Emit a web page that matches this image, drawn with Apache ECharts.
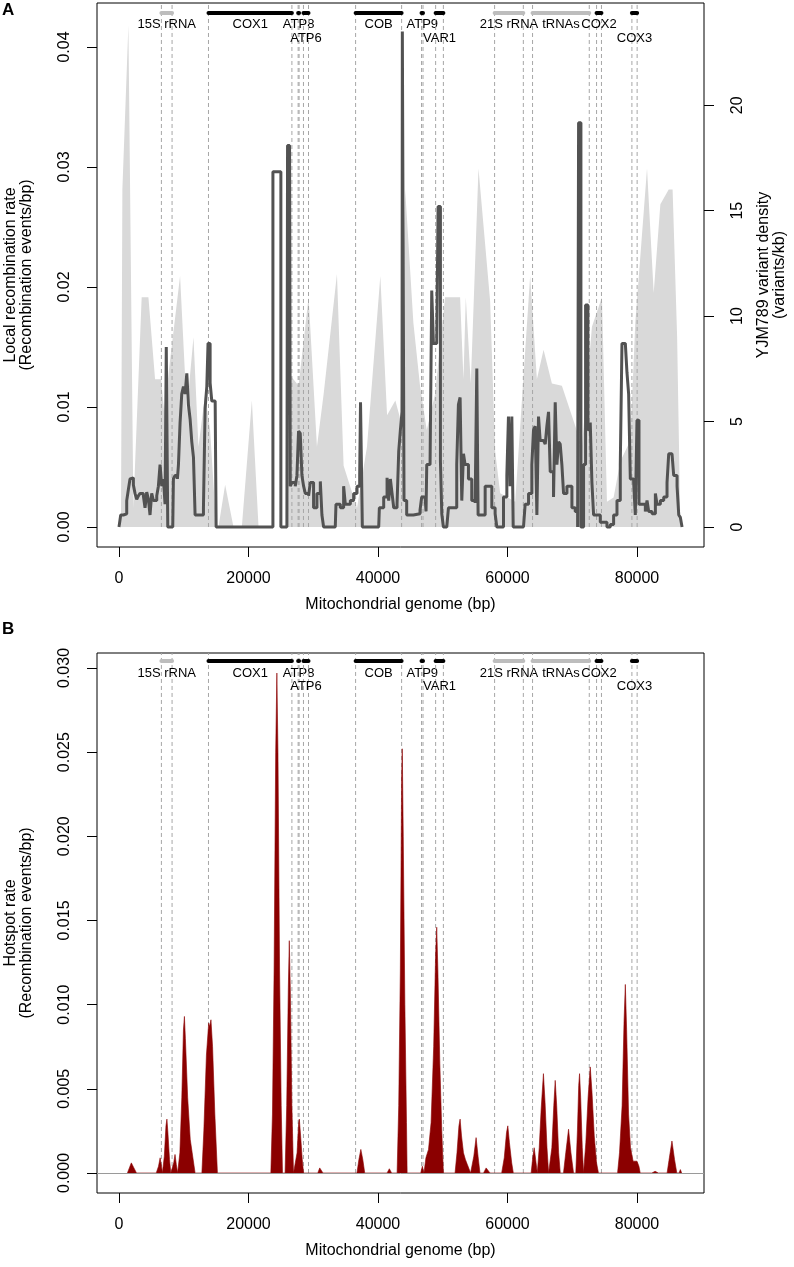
<!DOCTYPE html>
<html><head><meta charset="utf-8">
<script src="https://cdn.jsdelivr.net/npm/echarts@6/dist/echarts.min.js"></script>
<style>html,body{margin:0;padding:0;background:#fff}#c{width:794px;height:1267px}</style>
</head><body><div id="c"></div>
<script>
// ---------- data ----------
const xTicks = [0, 20000, 40000, 60000, 80000];
const rateTicksA = [0, 0.01, 0.02, 0.03, 0.04];
const densityTicks = [0, 5, 10, 15, 20];
const hotTicks = [0, 0.005, 0.01, 0.015, 0.02, 0.025, 0.03];

const geneNames = ['15S rRNA','COX1','ATP8','ATP6','COB','ATP9','VAR1','21S rRNA','tRNAs','COX2','COX3'];
const geneStart = [6546, 13818, 27666, 28487, 36540, 46723, 48901, 58009, 63870, 73758, 79213];
const geneEnd   = [8194, 26701, 27812, 29266, 43647, 46953, 50097, 62447, 72630, 74513, 80022];
const geneType  = ['rna','protein','protein','protein','protein','protein','protein','rna','rna','protein','protein'];

// Local recombination rate (events/bp)
const recPos = [0,260,670,1190,1440,1700,1960,2220,2470,2730,2990,3250,3760,4020,4280,4540,4790,5050,5310,5830,6080,6340,6600,6860,7110,7300,7450,7530,8300,8400,8660,9020,9180,9430,9690,9950,10210,10470,10720,10980,11240,11500,11750,12530,13040,13300,13560,13750,13900,14070,14330,14850,15000,
23770,23770,25000,25000,25930,26030,26340,26450,26700,27220,27480,27730,27990,28250,28510,28770,29280,29540,30050,30570,31090,31340,31600,33400,33510,34180,34690,34950,35730,36240,36760,37170,37300,37450,37580,40110,40210,40880,41400,41650,41910,42170,42430,42940,43200,43460,43710,43760,43960,44020,44430,45460,46490,46750,47270,47420,47530,48040,48300,48560,49070,49280,49480,49640,49850,50100,
50620,50880,51650,52160,52420,52680,52940,53200,53450,53970,54480,55000,55260,55460,56030,56550,57060,57580,58090,58350,58870,59380,59900,60150,60410,60670,60880,62470,62730,63250,63760,64020,64280,64540,64790,65050,65570,65830,66080,66340,66600,67110,67370,67630,67890,68140,68400,68660,69180,69950,70460,70830,70980,71190,71340,71750,72060,72270,72420,72780,73040,73300,74330,75360,75880,76390,76910,77420,77680,78200,78450,78710,78970,79490,79740,80000,80150,80310,81290,81550,81810,82320,82840,83090,83610,84130,84640,84900,85410,85670,86190,86450,86700,86960];
const recRate = [0,0.0010,0.0011,0.0022,0.0031,0.0040,0.0041,0.0035,0.0028,0.0023,0.0026,0.0028,0.0026,0.0016,0.0029,0.0023,0.0010,0.0028,0.0022,0.0026,0.0034,0.0052,0.0034,0.0040,0.0019,0.0150,0.0150,0,0,0.0040,0.0043,0.0040,0.0052,0.0087,0.0111,0.0117,0.0111,0.0128,0.0102,0.0090,0.0071,0.0058,0.0010,0.0010,0.0016,0.0099,0.0117,0.0153,0.0153,0.0120,0.0105,0.0105,0,
0,0.0296,0.0296,0,0,0.0318,0.0318,0.0034,0.0037,0.0034,0.0043,0.0080,0.0078,0.0043,0.0034,0.0028,0.0026,0.0037,0.0016,0.0028,0.0038,0.0010,0,0,0.0019,0.0016,0.0034,0.0019,0.0022,0.0028,0.0034,0.0043,0.0104,0.0104,0,0,0.0016,0.0025,0.0041,0.0022,0.0040,0.0028,0.0016,0.0019,0.0063,0.0081,0.0096,0.0413,0.0413,0.0022,0.0010,0.0011,0.0014,0.0025,0.0026,0.0013,0.0052,0.0052,0.0197,0.0153,0.0153,0.0267,0.0267,0.0055,0.0011,0,
0,0.0016,0.0016,0.0052,0.0102,0.0108,0.0022,0.0061,0.0052,0.0040,0.0022,0.0020,0.0132,0.0010,0.0010,0.0034,0.0034,0.0016,0.0011,0,0,0.0025,0.0043,0.0092,0.0034,0.0092,0,0,0.0019,0.0028,0.0052,0.0081,0.0084,0.0010,0.0092,0.0072,0.0072,0.0069,0.0084,0.0096,0.0046,0.0025,0.0104,0.0052,0.0071,0.0069,0.0052,0.0028,0.0034,0.0016,0.0013,0,0.0337,0.0337,0,0.0052,0.0185,0.0185,0.0081,0.0087,0.0037,0.0010,0.0004,0,0.0002,0.0010,0.0022,0.0052,0.0153,0.0153,0.0129,0.0111,0.0040,0.0037,0.0010,0.0089,0.0089,0.0019,0.0013,0.0022,0.0013,0.0011,0.0028,0.0019,0.0022,0.0025,0.0037,0.0061,0.0061,0.0043,0.0034,0.0010,0.0008,0];

// YJM789 variant density (variants/kb)
const varPos = [300,520,1450,2220,2470,3500,4540,5570,6500,6960,9430,10470,11500,12270,13300,14070,15000,15360,16390,17680,18970,20520,21550,25930,26450,27730,29280,30570,31600,33660,34690,36760,38300,40360,41400,42680,43460,44200,45460,46490,47530,48810,50360,52680,53200,53560,54330,55520,57320,58090,58870,61190,63500,64540,65570,66860,68400,70460,71500,73040,74590,75360,76390,77420,78970,79740,81550,82580,83610,84900,85500,86200,86700];
const varDensity = [0,16.0,23.8,0.9,2.9,10.9,10.9,7.0,7.0,5.5,11.9,5.5,9.0,3.8,6.3,4.6,0,0,2.0,0,0,6.0,0,0,7.2,6.7,10.9,3.8,6.3,12.0,2.9,0.9,3.8,11.9,5.3,6.0,5.1,16.0,9.7,6.7,4.6,6.3,10.9,10.9,7.0,10.9,6.8,17.0,10.7,3.6,1.6,1.2,11.9,7.0,8.4,6.8,6.7,4.8,3.8,9.5,10.9,1.2,1.4,3.1,4.1,9.7,17.0,11.1,15.3,16.0,16.0,9.0,0];

// Hotspot rate (events/bp)
const hotPos = [1300,1600,1900,2000,2300,2700,5750,6100,6350,6600,6700,6750,7000,7250,7400,7550,7800,8000,8150,8450,8650,8850,9050,9100,9400,9700,9950,10100,10250,10600,11000,11300,11750,12800,13100,13500,13850,14000,14200,14450,14800,15200,
23450,23700,23950,24200,24380,24550,24800,25050,25250,25650,25900,26150,26300,26450,26700,26950,27200,27500,27750,27850,28050,28300,28500,30700,31000,31200,31500,36750,37050,37350,37650,37950,41400,41750,42100,42950,43200,43450,43650,43750,43900,44150,44400,44500,
46600,46850,47100,47250,47400,47800,48200,48600,48900,49070,49250,49550,49850,50100,51900,52200,52500,52680,52900,53200,53500,53800,54300,54450,54800,55150,55450,55750,56300,56700,56900,57300,59100,59500,59850,60050,60300,60650,60900,
63650,63900,64120,64350,64600,64650,64900,65200,65550,65800,66100,66350,66550,66850,67150,67370,67600,67900,68150,68650,69000,69430,69800,70200,70550,70800,71000,71130,71300,71550,71750,71800,72100,72450,72780,73050,73400,73750,74050,
77000,77300,77700,78000,78200,78400,78700,79000,79400,79700,80000,80300,80500,82300,82800,83300,84650,85000,85400,85800,86150,86500,86700,86900];
const hotRate = [0,0.0003,0.0006,0.0006,0.0003,0,0,0.0004,0.0009,0.0003,0,0,0.0010,0.0028,0.0032,0.0024,0.0008,0,0,0.0006,0.0011,0.0005,0,0,0.0012,0.0045,0.0085,0.0093,0.0080,0.0045,0.0020,0.0012,0,0,0.0025,0.0070,0.0089,0.0087,0.0091,0.0075,0.0035,0,
0,0.0035,0.0120,0.0250,0.0297,0.0250,0.0120,0.0040,0,0,0.0040,0.0110,0.0138,0.0110,0.0040,0,0,0.0012,0.0030,0.0032,0.0022,0.0008,0,0,0.0003,0.0003,0,0,0.0008,0.0014,0.0008,0,0,0.00025,0,0,0.0040,0.0120,0.0235,0.0252,0.0200,0.0100,0.0030,0,
0,0.0004,0,0,0.0009,0.0014,0.0030,0.0075,0.0130,0.0146,0.0120,0.0065,0.0025,0,0,0.0012,0.0028,0.0032,0.0022,0.0012,0.0008,0.0005,0,0,0.0010,0.0021,0.0010,0,0,0.0003,0.0003,0,0,0.0009,0.0024,0.0028,0.0018,0.0006,0,
0,0.0009,0.0015,0.0008,0,0,0.0015,0.0038,0.0059,0.0042,0.0015,0,0,0.0015,0.0040,0.0055,0.0040,0.0012,0,0,0.0012,0.0026,0.0012,0,0,0.0025,0.0052,0.0059,0.0045,0.0015,0,0,0.0018,0.0045,0.0063,0.0048,0.0022,0.0006,0,
0,0.0012,0.0040,0.0090,0.0112,0.0085,0.0035,0.0015,0.0007,0.0006,0.0007,0.0004,0,0,0.0001,0,0,0.0009,0.0019,0.0008,0,0,0.0002,0];

// ---------- drawing ----------
const FONT = '"Liberation Sans", Arial, Helvetica, sans-serif';
const zip = (a, b) => a.map((v, i) => [v, b[i]]);
const geneData = geneNames.map((n, i) => [geneStart[i], geneEnd[i], i]);
const secondRow = new Set(['ATP6', 'VAR1', 'COX3']);

function geneRenderer(barOff, row1Off, row2Off) {
  return function (params, api) {
    const i = api.value(2);
    const top = params.coordSys.y;
    const p0 = api.coord([api.value(0), 0]);
    const p1 = api.coord([api.value(1), 0]);
    const base = p0[1];
    const dash = { stroke: '#a6a6a6', lineWidth: 1, lineDash: [4, 3] };
    const name = geneNames[i];
    return {
      type: 'group',
      children: [
        { type: 'line', shape: { x1: p0[0], y1: base, x2: p0[0], y2: top }, style: dash },
        { type: 'line', shape: { x1: p1[0], y1: base, x2: p1[0], y2: top }, style: dash },
        { type: 'line', shape: { x1: p0[0], y1: top + barOff, x2: p1[0], y2: top + barOff },
          style: { stroke: geneType[i] === 'rna' ? '#bdbdbd' : '#000', lineWidth: 4, lineCap: 'round' } },
        { type: 'text', style: { text: name, x: (p0[0] + p1[0]) / 2, y: top + (secondRow.has(name) ? row2Off : row1Off),
          align: 'center', verticalAlign: 'middle', font: '13px ' + FONT, fill: '#000' } }
      ]
    };
  };
}

const txt = { fontFamily: FONT, fontSize: 16, color: '#000' };
function xAxisCfg(gi) {
  return {
    type: 'value', gridIndex: gi, min: -3400, max: 90350, position: 'bottom',
    axisLine: { show: false, onZero: false },
    axisTick: { show: true, inside: false, length: 10, customValues: xTicks, lineStyle: { color: '#000', width: 1 } },
    axisLabel: Object.assign({ customValues: xTicks, margin: 24, formatter: v => String(v) }, txt),
    splitLine: { show: false },
    name: 'Mitochondrial genome (bp)', nameLocation: 'middle', nameGap: 50,
    nameTextStyle: txt
  };
}
function yAxisCfg(gi, pos, min, max, ticks, fmt, name, gap, lmargin) {
  return {
    type: 'value', gridIndex: gi, position: pos, min: min, max: max,
    axisLine: { show: false, onZero: false },
    axisTick: { show: true, inside: false, length: 10, customValues: ticks, lineStyle: { color: '#000', width: 1 } },
    axisLabel: Object.assign({ customValues: ticks, rotate: 90, margin: lmargin, formatter: fmt }, txt),
    splitLine: { show: false },
    name: name, nameLocation: 'middle', nameGap: gap, nameRotate: 90,
    nameTextStyle: Object.assign({ lineHeight: 16 }, txt)
  };
}

const option = {
  animation: false,
  backgroundColor: '#fff',
  grid: [
    { left: 97, top: 3, width: 607, height: 544, show: true, borderColor: '#000', borderWidth: 1, backgroundColor: 'transparent', containLabel: false, outerBoundsMode: 'none' },
    { left: 97, top: 653, width: 607, height: 540, show: true, borderColor: '#000', borderWidth: 1, backgroundColor: 'transparent', containLabel: false, outerBoundsMode: 'none' }
  ],
  xAxis: [xAxisCfg(0), xAxisCfg(1)],
  yAxis: [
    yAxisCfg(0, 'left', -0.001667, 0.04367, rateTicksA, v => v.toFixed(2), 'Local recombination rate\n(Recombination events/bp)', 62, 24),
    yAxisCfg(0, 'right', -0.95, 24.85, densityTicks, v => String(v), 'YJM789 variant density\n(variants/kb)', 52, 26),
    yAxisCfg(1, 'left', -0.00119, 0.03089, hotTicks, v => v.toFixed(3), 'Hotspot rate\n(Recombination events/bp)', 62, 24)
  ],
  graphic: [
    { type: 'text', left: 2, top: 2, style: { text: 'A', font: 'bold 17px ' + FONT, fill: '#000' } },
    { type: 'text', left: 2, top: 621, style: { text: 'B', font: 'bold 17px ' + FONT, fill: '#000' } }
  ],
  series: [
    { type: 'line', xAxisIndex: 0, yAxisIndex: 1, data: zip(varPos, varDensity), symbol: 'none',
      lineStyle: { width: 0, color: '#d9d9d9' }, areaStyle: { color: '#d9d9d9', opacity: 1 }, z: 1, silent: true },
    { type: 'custom', xAxisIndex: 0, yAxisIndex: 0, data: geneData, encode: { x: [0, 1] },
      renderItem: geneRenderer(10, 21, 35), z: 2, clip: false, silent: true },
    { type: 'line', xAxisIndex: 0, yAxisIndex: 0, data: zip(recPos, recRate), step: 'end', symbol: 'none',
      lineStyle: { color: '#525252', width: 3 }, z: 3, silent: true },
    { type: 'custom', xAxisIndex: 1, yAxisIndex: 2, data: geneData, encode: { x: [0, 1] },
      renderItem: geneRenderer(8, 20, 33), z: 1, clip: false, silent: true },
    { type: 'line', xAxisIndex: 1, yAxisIndex: 2, data: zip(hotPos, hotRate), symbol: 'none',
      lineStyle: { color: '#8b0000', width: 0.6 }, areaStyle: { color: '#8b0000', opacity: 1 }, z: 2, silent: true,
      markLine: { silent: true, symbol: 'none', label: { show: false }, z: 5,
        lineStyle: { color: '#9a9a9a', type: 'solid', width: 1 }, data: [{ yAxis: 0 }] } }
  ]
};
const chart = echarts.init(document.getElementById('c'));
chart.setOption(option);
</script></body></html>
